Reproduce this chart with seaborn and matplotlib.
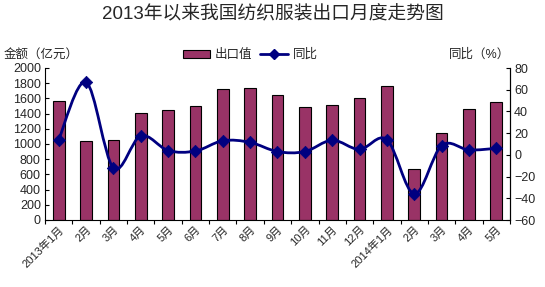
import numpy as np
import pandas as pd
import matplotlib
matplotlib.use("Agg")
import matplotlib.pyplot as plt
from matplotlib.path import Path
from matplotlib.patches import PathPatch, Patch
from matplotlib.lines import Line2D
import seaborn as sns

categories = ["2013年1月", "2月", "3月", "4月", "5月", "6月", "7月", "8月", "9月",
              "10月", "11月", "12月", "2014年1月", "2月", "3月", "4月", "5月"]
export_value = [1560, 1040, 1050, 1405, 1445, 1495, 1720, 1735, 1640,
                1485, 1510, 1600, 1760, 670, 1145, 1460, 1550]
yoy_pct = [14, 67, -12, 17.5, 4, 3.5, 13, 11.5, 3, 3, 13.5, 5, 14,
           -36, 8.5, 4.5, 6]

sns.set_theme(style="white")
FAM = ["Liberation Sans", "Noto Sans CJK SC"]
plt.rcParams["font.family"] = FAM

bar_color = "#993366"
line_color = "#000080"

df = pd.DataFrame({"month": categories, "value": export_value, "yoy": yoy_pct})
df["pos"] = range(len(df))

fig = plt.figure(figsize=(5.45, 2.87), dpi=100)
ax = fig.add_axes([45 / 545, 1 - 220 / 287, (510 - 45) / 545, (220 - 68) / 287])

sns.barplot(data=df, x="pos", y="value", ax=ax, color=bar_color, width=0.43,
            edgecolor="black", linewidth=0.8, saturation=1)
ax.set_xlim(-0.5, len(df) - 0.5)
ax.set_ylim(0, 2000)
ax.set_yticks(np.arange(0, 2001, 200))
ax.set_xlabel("")
ax.set_ylabel("")
ax.set_xticks(np.arange(len(df)))
ax.set_xticklabels(categories, rotation=45, ha="right", rotation_mode="anchor",
                   fontsize=8)
ax.tick_params(axis="x", which="major", length=0, pad=3)
ax.set_xticks(np.arange(-0.5, len(df), 1), minor=True)
ax.tick_params(axis="x", which="minor", length=3, direction="out", width=0.8,
               color="black", bottom=True)
ax.tick_params(axis="y", length=3, direction="in", width=0.8, color="black",
               labelsize=9, pad=3, left=True)
for s in ["left", "bottom", "right"]:
    ax.spines[s].set_color("black")
    ax.spines[s].set_linewidth(0.8)
ax.spines["top"].set_visible(False)

ax2 = ax.twinx()
ax2.set_ylim(-60, 80)
ax2.set_yticks(np.arange(-60, 81, 20))
ax2.tick_params(axis="y", length=3, direction="in", width=0.8, color="black",
                labelsize=9, pad=3, right=True)
ax2.spines["top"].set_visible(False)
ax2.spines["right"].set_color("black")
ax2.spines["right"].set_linewidth(0.8)
ax2.spines["left"].set_visible(False)
ax2.spines["bottom"].set_visible(False)

# smooth (Excel-like) line through data points
xs = df["pos"].to_numpy(dtype=float)
ys = df["yoy"].to_numpy(dtype=float)
verts = [(xs[0], ys[0])]
codes = [Path.MOVETO]
n = len(xs)
for i in range(n - 1):
    p0 = np.array([xs[max(i - 1, 0)], ys[max(i - 1, 0)]])
    p1 = np.array([xs[i], ys[i]])
    p2 = np.array([xs[i + 1], ys[i + 1]])
    p3 = np.array([xs[min(i + 2, n - 1)], ys[min(i + 2, n - 1)]])
    c1 = p1 + (p2 - p0) / 6
    c2 = p2 - (p3 - p1) / 6
    verts += [tuple(c1), tuple(c2), tuple(p2)]
    codes += [Path.CURVE4] * 3
ax2.add_patch(PathPatch(Path(verts, codes), facecolor="none",
                        edgecolor=line_color, linewidth=2, zorder=3))
sns.scatterplot(data=df, x="pos", y="yoy", ax=ax2, marker="D", s=40,
                color=line_color, edgecolor=line_color, zorder=4, legend=False)
ax2.set_ylabel("")
ax2.set_xlim(-0.5, len(df) - 0.5)

fig.text(0.5, 1 - 13 / 287, "2013年以来我国纺织服装出口月度走势图", ha="center",
         va="center", fontsize=13.5, family=FAM)
fig.text(4 / 545, 1 - 55 / 287, "金额（亿元）", ha="left", va="center", fontsize=9)
fig.text(510 / 545, 1 - 55 / 287, "同比（%）", ha="right", va="center", fontsize=9)

handles = [Patch(facecolor=bar_color, edgecolor="black", linewidth=0.8),
           Line2D([], [], color=line_color, lw=2, marker="D", markersize=5.5)]
fig.legend(handles, ["出口值", "同比"], loc="center", ncol=2,
           bbox_to_anchor=(250 / 545, 1 - 55 / 287), frameon=False, fontsize=9,
           handlelength=2.2, handleheight=0.6, handletextpad=0.4, columnspacing=0.6)

fig.savefig("out.png", dpi=100)
